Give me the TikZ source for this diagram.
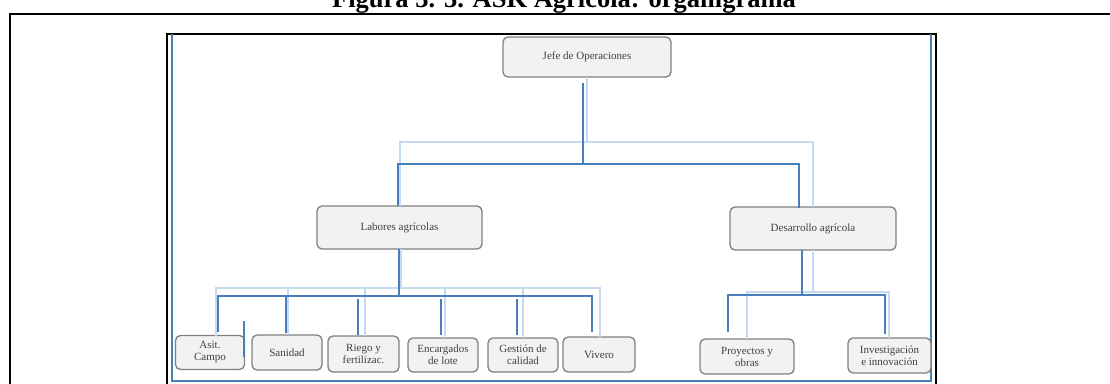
\documentclass[tikz,border=0pt]{standalone}
\usepackage{fontspec}
\setmainfont{Liberation Serif}
\usetikzlibrary{calc}
\definecolor{linkdark}{RGB}{74,126,187}
\definecolor{linklight}{RGB}{197,217,241}
\definecolor{boxfill}{RGB}{242,242,242}
\definecolor{boxedge}{RGB}{127,127,127}
\definecolor{boxtext}{RGB}{64,64,64}
\begin{document}
\begin{tikzpicture}[x=1pt,y=-1pt,
  orgbox/.style={draw=boxedge, fill=boxfill, rounded corners=5pt, line width=1.3pt,
    align=center, inner sep=0pt, outer sep=0pt, text=boxtext,
    font=\fontsize{11}{12}\selectfont},
  darklink/.style={draw=linkdark, line width=2.4pt},
  lightlink/.style={draw=linklight, line width=2pt},
]
\useasboundingbox (0,0) rectangle (1110,383);
\begin{scope}
\clip (0,0) rectangle (1110,383);

% caption
\node[anchor=base, inner sep=0pt, font=\fontsize{26.5}{28}\selectfont\bfseries] (title)
  at (564,7.5) {Figura 3. 3. ASK Agrícola: organigrama};

% table cell frame
\draw[line width=2pt] (10,400) -- (10,14) -- (1130,14);
% frame of the chart image
\draw[line width=1.5pt] (167,400) -- (167,34) -- (936,34) -- (936,400);
\draw[linkdark, line width=1.2pt] (172,34) -- (172,381) -- (931,381) -- (931,34);

% boxes
\node[orgbox, minimum width=168, minimum height=40] (jefe) at (587,57) {Jefe de Operaciones};
\node[orgbox, minimum width=165, minimum height=43] (lab) at (399.5,227.5) {Labores agrícolas};
\node[orgbox, minimum width=166, minimum height=43] (des) at (813,228.5) {Desarrollo agrícola};
\node[orgbox, minimum width=69, minimum height=34] (asit) at (210,352.5) {Asit.\\Campo};
\node[orgbox, minimum width=70, minimum height=35] (san) at (287,352.5) {Sanidad};
\node[orgbox, minimum width=71, minimum height=36] (rie) at (363.5,354) {Riego y\\fertilizac.};
\node[orgbox, minimum width=70, minimum height=34] (enc) at (443,355) {Encargados\\de lote};
\node[orgbox, minimum width=70, minimum height=34] (ges) at (523,355) {Gestión de\\calidad};
\node[orgbox, minimum width=72, minimum height=35] (viv) at (599,354.5) {Vivero};
\node[orgbox, minimum width=94, minimum height=35] (pro) at (747,356.5) {Proyectos y\\obras};
\node[orgbox, minimum width=83, minimum height=35] (inv) at (889.5,355.5) {Investigación\\e innovación};

% light connectors (drawn first)
\draw[lightlink] (jefe.south) -- ++(0,65) -| ($(lab.north)+(0.5,0)$);
\draw[lightlink] (jefe.south) -- ++(0,65) -| (des.north);

\coordinate (lbus) at (0,288);
\draw[lightlink] ($(lab.south)+(1,0)$) -- ++(0,39);
\draw[lightlink] ($(asit.north)+(6,0)$) |- ($(viv.north)+(1,-49)$) -- ($(viv.north)+(1,0)$);
\foreach \n/\dx in {san/1,rie/1.5,enc/2,ges/0}{
  \coordinate (t) at ($(\n.north)+(\dx,0)$);
  \draw[lightlink] (t) -- (t |- lbus);
}

\draw[lightlink] (des.south) -- ++(0,42);
\draw[lightlink] (pro.north) |- ($(inv.north)+(-0.5,-46)$) -- ($(inv.north)+(-0.5,0)$);

% dark connectors
\draw[darklink] ($(jefe.south)+(-4,6)$) -- ++(0,81) -| ($(lab.north)+(-1.5,0)$);
\draw[darklink] ($(jefe.south)+(-4,87)$) -| ($(des.north)+(-14,1)$);

\coordinate (dbus) at (0,296);
\draw[darklink] ($(lab.south)+(-0.5,0)$) -- ++(0,47);
\draw[darklink] ($(asit.north)+(8,-3.5)$) |- ($(lab.south)+(-0.5,47)$) -| ($(viv.north)+(-7,-5)$);
\coordinate (t) at ($(san.north)+(-1,-2)$);
\draw[darklink] (t) -- (t |- dbus);
\draw[darklink] ($(rie.north)+(-5.5,-1)$) -- ++(0,-36);
\draw[darklink] ($(enc.north)+(-2,-3)$) -- ++(0,-36);
\draw[darklink] ($(ges.north)+(-6,-3)$) -- ++(0,-36);
\draw[darklink] ($(asit.east)+(-0.5,4.5)$) -- ++(0,-36);

\draw[darklink] ($(des.south)+(-11,0)$) -- ++(0,45);
\draw[darklink] ($(pro.north)+(-19,-7)$) |- ($(inv.north)+(-4.5,-43)$) -- ($(inv.north)+(-4.5,-4)$);
\end{scope}
\end{tikzpicture}
\end{document}
